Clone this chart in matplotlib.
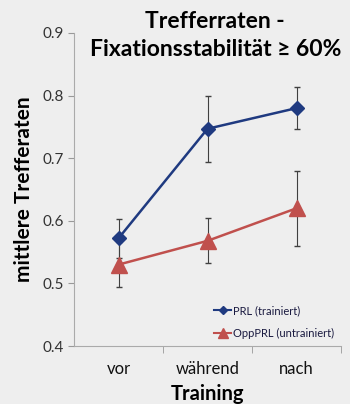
import matplotlib
matplotlib.use("Agg")
import matplotlib.pyplot as plt
from matplotlib.lines import Line2D
import numpy as np

categories = ["vor", "während", "nach"]
prl = [0.572, 0.747, 0.780]
prl_err = [0.031, 0.053, 0.033]
opp = [0.530, 0.568, 0.620]
opp_err = [0.036, 0.036, 0.060]
yticks = [0.4, 0.5, 0.6, 0.7, 0.8, 0.9]

plt.rcParams['font.family'] = ['Lato', 'DejaVu Sans']
bg = "#eeeeee"
blue = "#1f3a80"
red = "#c0504d"
fig = plt.figure(figsize=(3.5, 4.04), dpi=100, facecolor=bg)
ax = fig.add_axes([74/350, 1-346/404, (341-74)/350, (346-33)/404], facecolor=bg)

x = np.arange(len(categories))
ax.errorbar(x, prl, yerr=prl_err, color=blue, marker="D", markersize=7,
            lw=1.8, ecolor="#404040", elinewidth=0.8, capsize=2.5, zorder=3)
ax.errorbar(x, opp, yerr=opp_err, color=red, marker="^", markersize=11,
            lw=1.8, ecolor="#404040", elinewidth=0.8, capsize=2.5, zorder=3)

ax.set_xlim(-0.5, 2.5)
ax.set_ylim(0.4, 0.9)
ax.set_yticks(yticks)
ax.set_yticklabels([f"{v:.1f}" for v in yticks], fontsize=11, color="#333333")
ax.set_xticks(x)
ax.set_xticklabels(categories, fontsize=12, color="#111111")
ax.tick_params(axis="x", length=0, pad=11)
ax.set_xticks([0.5, 1.5, 2.5], minor=True)
ax.tick_params(axis="x", which="minor", length=5, color="#999999", direction="out")
ax.tick_params(axis="y", length=4, color="#999999", direction="out")
for s in ["top", "right"]:
    ax.spines[s].set_visible(False)
for s in ["left", "bottom"]:
    ax.spines[s].set_color("#aaaaaa")
ax.set_xlabel("Training", fontsize=14.5, fontweight="bold", labelpad=5)
ax.set_ylabel("mittlere Trefferaten", fontsize=15, fontweight="bold", labelpad=6)

handles = [Line2D([], [], color=blue, marker="D", markersize=4, lw=1.5),
           Line2D([], [], color=red, marker="^", markersize=7, lw=1.5)]
ax.legend(handles, ["PRL (trainiert)", "OppPRL (untrainiert)"], loc="lower right",
          fontsize=8, frameon=False, handlelength=1.5, handletextpad=0.2,
          borderaxespad=0.2, labelspacing=1.1, labelcolor="#1a1a40")

fig.text(0.615, 1-22/404, "Trefferraten -", ha="center", va="center", fontsize=16.5, fontweight="bold")
fig.text(0.615, 1-50/404, "Fixationsstabilität ≥ 60%", ha="center", va="center", fontsize=16.5,
         fontweight="bold")

fig.savefig("out.png", dpi=100, facecolor=bg)
